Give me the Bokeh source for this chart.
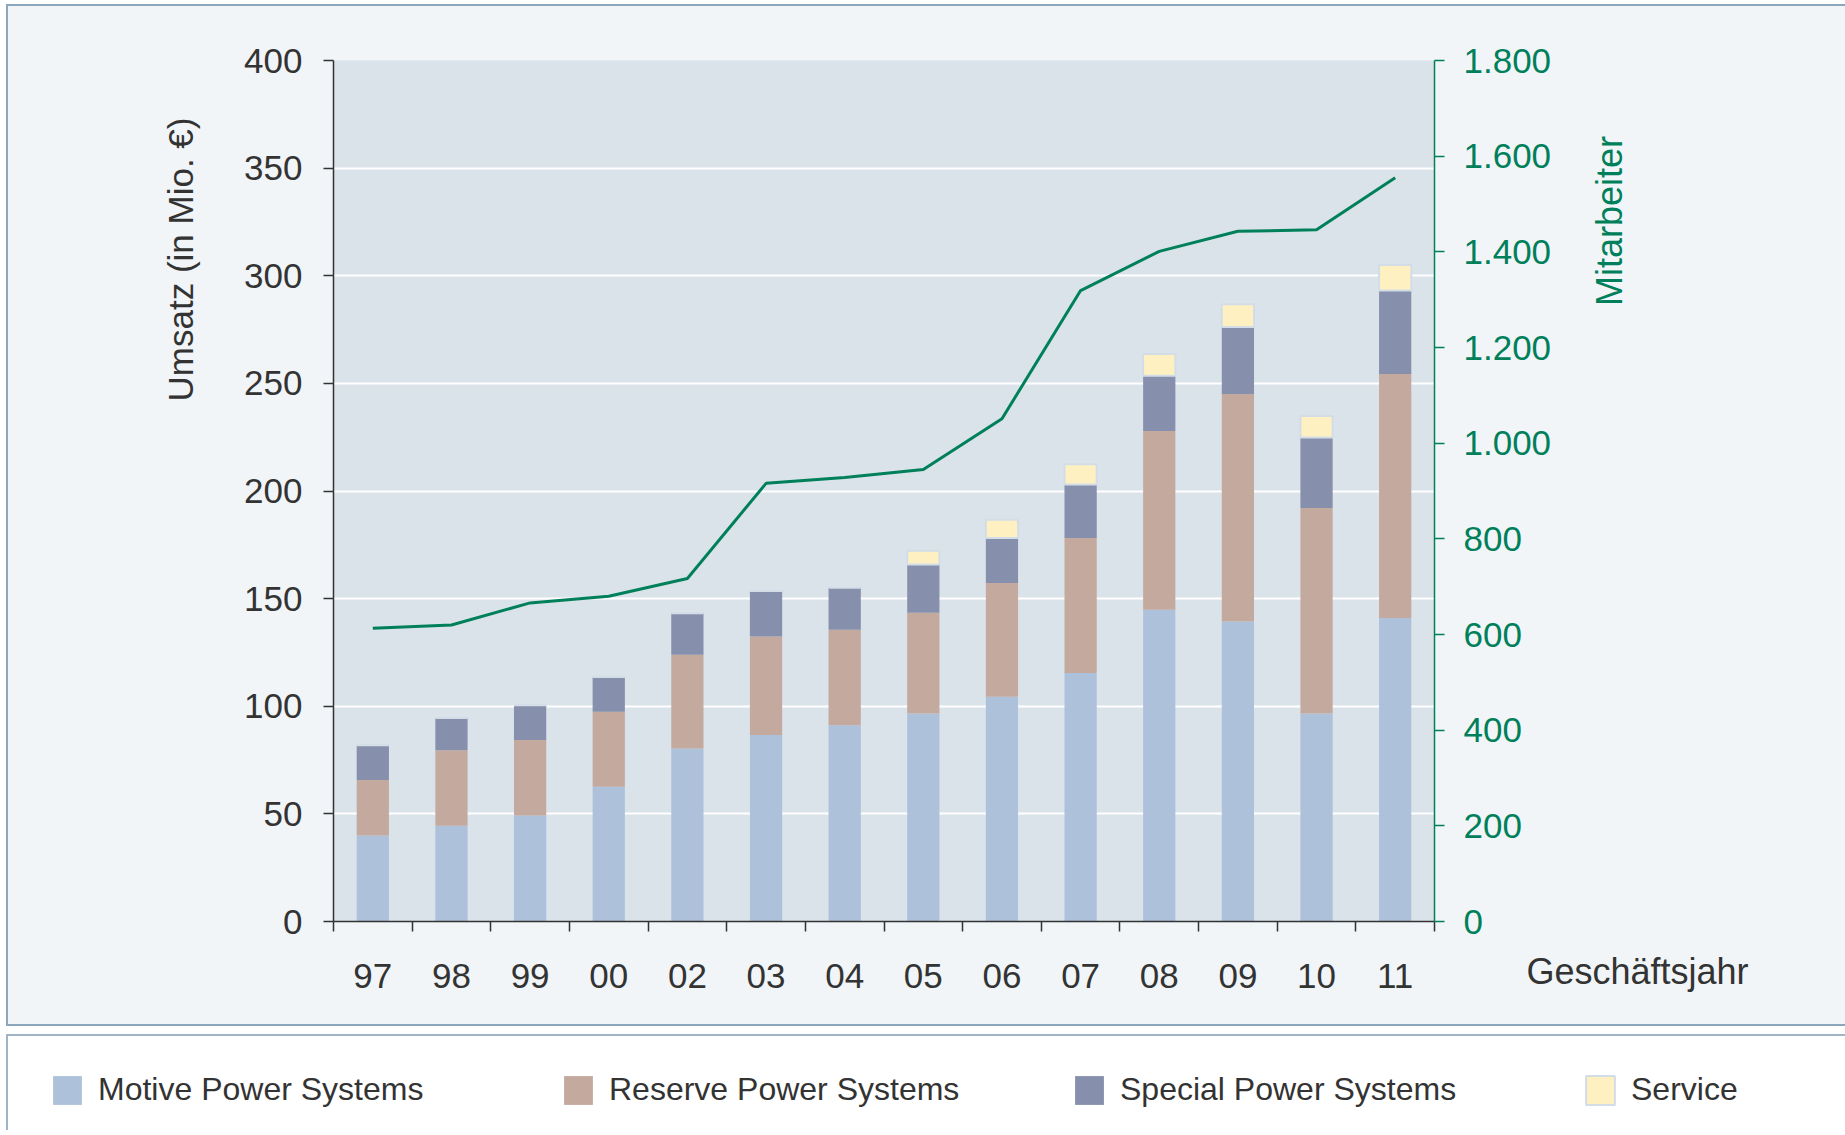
import math
import numpy as np
from bokeh.plotting import figure
from bokeh.models import (ColumnDataSource, Range1d, LinearAxis, FixedTicker, Label,
                          Legend, LegendItem, CustomJSTickFormatter)
from bokeh.embed import file_html
from bokeh.resources import INLINE

# ---------------- data ----------------
years = ["97", "98", "99", "00", "02", "03", "04", "05", "06", "07", "08", "09", "10", "11"]
motive = [40.0, 44.5, 49.2, 62.6, 80.4, 86.7, 91.2, 96.6, 104.4, 115.4, 144.8, 139.4, 96.6, 141.0]
reserve = [25.7, 35.1, 35.1, 34.8, 43.5, 45.7, 44.3, 46.8, 52.9, 62.8, 83.1, 105.7, 95.5, 113.3]
special = [16.2, 14.9, 16.2, 16.2, 19.3, 21.1, 19.5, 22.4, 20.9, 24.8, 25.6, 31.1, 32.7, 38.8]
service = [0, 0, 0, 0, 0, 0, 0, 6.4, 8.5, 9.4, 10.1, 10.6, 10.0, 11.9]
employees = [613, 620, 666, 680, 717, 916, 928, 945, 1051, 1319, 1401, 1443, 1446, 1555]

series_keys = ["motive", "reserve", "special", "service"]
series_names = ["Motive Power Systems", "Reserve Power Systems", "Special Power Systems", "Service"]
series_colors = ["#adc1da", "#c4a99f", "#868fab", "#fef0c0"]
series_lines = [None, None, None, "#d3dde8"]

left_ticks = [0, 50, 100, 150, 200, 250, 300, 350, 400]
right_ticks = [0, 200, 400, 600, 800, 1000, 1200, 1400, 1600, 1800]
left_label = "Umsatz (in Mio. €)"
right_label = "Mitarbeiter"
x_title = "Geschäftsjahr"

FONT = "Liberation Sans"
DARK = "#333333"
GREEN = "#00805a"
PANEL_BG = "#f1f5f8"
FRAME_BG = "#dae3ea"
BORDER = "#8ca6bc"
BORDER2 = "#9fb4c6"
W, H = 1845, 1135

n = len(years)
xs = np.arange(n) + 0.5
source = ColumnDataSource(dict(x=xs, motive=motive, reserve=reserve, special=special,
                               service=service, employees=employees))

# ---------------- main chart ----------------
p = figure(width=W, height=1026, x_range=Range1d(0, n), y_range=Range1d(0, 400),
           output_backend="svg", toolbar_location=None,
           min_border_left=333, min_border_right=411, min_border_top=60, min_border_bottom=105,
           background_fill_color=FRAME_BG, border_fill_color=None, outline_line_color=None)
p.styles = {"background-color": PANEL_BG,
            "box-shadow": (f"inset 6px 4px 0 white, inset 8px 6px 0 {BORDER}, "
                           f"inset 0 -2px 0 {BORDER}")}
p.extra_y_ranges = {"emp": Range1d(0, 1800)}

p.vbar_stack(series_keys, x="x", width=0.41, source=source, color=series_colors,
             line_color=series_lines, line_width=2)
p.line(x="x", y="employees", source=source, y_range_name="emp", line_width=3, color=GREEN)

# x axis
xa = p.xaxis[0]
xa.ticker = FixedTicker(ticks=list(xs), minor_ticks=list(range(n + 1)))
xa.formatter = CustomJSTickFormatter(args=dict(labels=years),
                                     code="return labels[Math.round(tick - 0.5)] || '';")
xa.major_tick_line_color = None
xa.major_tick_out = 10
xa.major_tick_in = 0
xa.minor_tick_line_color = DARK
xa.minor_tick_line_width = 1.5
xa.minor_tick_out = 10
xa.minor_tick_in = 0
xa.axis_line_color = DARK
xa.axis_line_width = 1.5
xa.major_label_text_font = FONT
xa.major_label_text_font_size = "35px"
xa.major_label_text_color = DARK
xa.major_label_standoff = 32

# left axis
ya = p.yaxis[0]
ya.ticker = FixedTicker(ticks=left_ticks)
ya.minor_tick_line_color = None
ya.major_tick_out = 10
ya.major_tick_in = 0
ya.major_tick_line_color = DARK
ya.major_tick_line_width = 1.5
ya.axis_line_color = DARK
ya.axis_line_width = 1.5
ya.major_label_text_font = FONT
ya.major_label_text_font_size = "35px"
ya.major_label_text_color = DARK
ya.major_label_standoff = 21

# right axis
ra = LinearAxis(y_range_name="emp", ticker=FixedTicker(ticks=right_ticks),
                formatter=CustomJSTickFormatter(code="""
const s = Math.round(tick).toString();
return s.replace(/\\B(?=(\\d{3})+(?!\\d))/g, '.');
"""))
ra.minor_tick_line_color = None
ra.major_tick_out = 10
ra.major_tick_in = 0
ra.major_tick_line_color = GREEN
ra.major_tick_line_width = 1.5
ra.axis_line_color = GREEN
ra.axis_line_width = 1.5
ra.major_label_text_font = FONT
ra.major_label_text_font_size = "35px"
ra.major_label_text_color = GREEN
ra.major_label_standoff = 19
p.add_layout(ra, "right")

p.xgrid.visible = False
p.ygrid.ticker = FixedTicker(ticks=left_ticks)
p.ygrid.grid_line_color = "white"
p.ygrid.grid_line_width = 2

# ---------------- legend panel ----------------
leg = figure(width=W, height=104, x_range=Range1d(0, 1), y_range=Range1d(0, 1),
             output_backend="svg", toolbar_location=None,
             min_border_left=49, min_border_top=42, min_border_right=0, min_border_bottom=0,
             x_axis_location=None, y_axis_location=None,
             background_fill_color=None, border_fill_color=None, outline_line_color=None)
leg.styles = {"background-color": "white",
              "box-shadow": f"inset 6px 8px 0 white, inset 8px 10px 0 {BORDER2}"}
leg.grid.visible = False
leg_rs = leg.vbar_stack(series_keys, x="x", width=0.41, source=source, color=series_colors,
                        line_color=series_lines, line_width=2, visible=False)
legend = Legend(items=[LegendItem(label=nm, renderers=[r]) for nm, r in zip(series_names, leg_rs)],
                orientation="horizontal", location="top_left", margin=0, padding=0,
                glyph_width=36, glyph_height=36, label_standoff=13, label_width=454, spacing=8,
                label_height=43,
                label_text_font=FONT, label_text_font_size="32px", label_text_color=DARK,
                border_line_color=None, background_fill_alpha=0)
leg.add_layout(legend)

# ---------------- overlay for axis titles (page pixel coordinates) ----------------
ov = figure(width=W, height=H, x_range=Range1d(0, W), y_range=Range1d(H, 0),
            output_backend="svg", toolbar_location=None, min_border=0,
            x_axis_location=None, y_axis_location=None,
            background_fill_color=None, border_fill_color=None, outline_line_color=None)
ov.grid.visible = False
ov.styles = {"position": "absolute", "left": "0px", "top": "0px", "pointer-events": "none"}
ov.add_layout(Label(x=180, y=259, text=left_label, angle=math.pi / 2,
                    text_font=FONT, text_font_size="35px", text_color=DARK,
                    text_baseline="alphabetic", text_align="center"))
ov.add_layout(Label(x=1609, y=220.5, text=right_label, angle=math.pi / 2,
                    text_font=FONT, text_font_size="36px", text_color=GREEN,
                    text_baseline="alphabetic", text_align="center"))
ov.add_layout(Label(x=1526, y=971, text=x_title, text_font=FONT, text_font_size="36px",
                    text_color=DARK, text_baseline="alphabetic", text_align="left"))

open("out.html", "w").write(file_html([p, leg, ov], INLINE))
